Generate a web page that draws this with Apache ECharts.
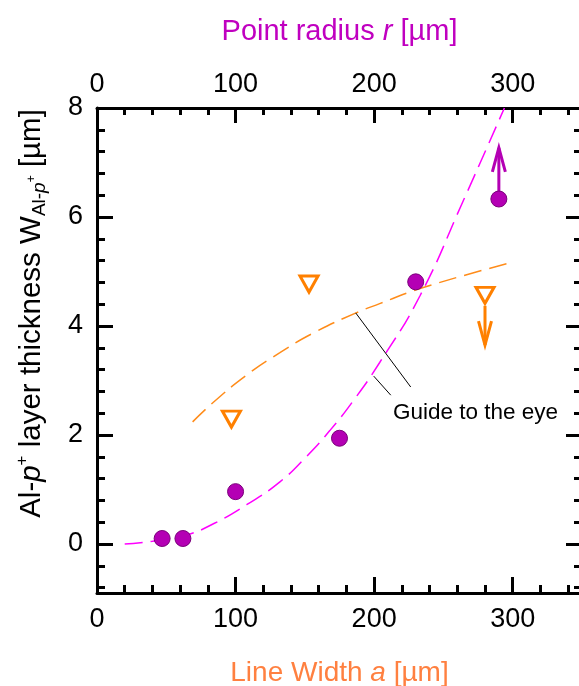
<!DOCTYPE html>
<html>
<head>
<meta charset="utf-8">
<script src="https://cdn.jsdelivr.net/npm/echarts@6/dist/echarts.min.js"></script>
<style>
html,body{margin:0;padding:0;background:#fff;}
#chart{width:579px;height:686px;}
</style>
</head>
<body>
<div id="chart"></div>
<script>
// ---- data ----
const circlePoints = [[47, 0.10], [62, 0.10], [100, 0.96], [175, 1.94], [230, 4.81], [290, 6.33]];
const trianglePoints = [[97, 2.29], [153, 4.77], [280, 4.56]];
const magentaArrow = [[290, 6.33, 7.27]];
const orangeArrow = [[280, 4.37, 3.65]];
const magentaGuide = [[20, 0.0], [40, 0.05], [65, 0.17], [84, 0.37], [108, 0.72], [132, 1.14], [151, 1.60], [168, 2.08], [185, 2.63], [204, 3.33], [233, 4.55], [264, 6.28], [294, 8.0]];
const orangeGuide = [[69, 2.24], [84, 2.60], [108, 3.10], [132, 3.51], [156, 3.87], [187, 4.24], [204, 4.41], [236, 4.71], [300, 5.17]];
const pointerLine1 = [[186.7, 4.24], [226.4, 2.88]];
const pointerLine2 = [[199.7, 3.08], [212.0, 2.73]];
const xTicks = [0, 100, 200, 300];
const xMinorTicks = [20, 40, 60, 80, 120, 140, 160, 180, 220, 240, 260, 280, 320, 340];
const yTicks = [0, 2, 4, 6, 8];
const yMinorTicks = [-0.8, -0.4, 0.4, 0.8, 1.2, 1.6, 2.4, 2.8, 3.2, 3.6, 4.4, 4.8, 5.2, 5.6, 6.4, 6.8, 7.2, 7.6];
const xRange = [0, 350];
const yRange = [-0.9, 8];

// ---- styles ----
const FONT = 'Liberation Sans, Arial, sans-serif';
const MAG = '#b400b4';
const MAG_LINE = '#ff00ff';
const ORG = '#ff8000';
const ORG_LINE = '#ff8c1a';

function xAxisCfg(pos, ticks, len, main, margin) {
  return {
    type: 'value', position: pos, min: xRange[0], max: xRange[1],
    axisLine: {show: main, onZero: false, lineStyle: {color: '#000', width: 3}},
    axisTick: {show: true, inside: true, length: len, customValues: ticks, lineStyle: {color: '#000', width: 3}},
    axisLabel: main ? {show: true, customValues: xTicks, margin: margin, color: '#000', fontSize: 27, fontFamily: FONT} : {show: false},
    splitLine: {show: false}
  };
}
function yAxisCfg(pos, ticks, len, main, labels) {
  return {
    type: 'value', position: pos, min: yRange[0], max: yRange[1],
    axisLine: {show: main, onZero: false, lineStyle: {color: '#000', width: 3}},
    axisTick: {show: true, inside: true, length: len, customValues: ticks, lineStyle: {color: '#000', width: 3}},
    axisLabel: labels ? {show: true, customValues: yTicks, margin: 14, color: '#000', fontSize: 27, fontFamily: FONT} : {show: false},
    splitLine: {show: false}
  };
}

function arrowRender(params, api) {
  const x = api.value(0), ya = api.value(1), yb = api.value(2);
  const p0 = api.coord([x, ya]), p1 = api.coord([x, yb]);
  const dir = p1[1] < p0[1] ? 1 : -1;
  const hw = 6.5, hl = 24;
  const color = api.visual('color');
  return {
    type: 'group',
    children: [
      {type: 'line', shape: {x1: p0[0], y1: p0[1], x2: p1[0], y2: p1[1]}, style: {stroke: color, lineWidth: 3}},
      {type: 'polyline', shape: {points: [[p1[0] - hw, p1[1] + dir * hl], [p1[0], p1[1]], [p1[0] + hw, p1[1] + dir * hl]]},
       style: {stroke: color, lineWidth: 3, fill: null}}
    ]
  };
}

const bottomMain = xAxisCfg('bottom', xTicks, 16, true, 13);
bottomMain.name = '{n|Line Width }{i|a}{n| [µm]}';
bottomMain.nameLocation = 'middle';
bottomMain.nameGap = 66;
bottomMain.nameTextStyle = {color: '#ff8040', fontFamily: FONT, fontSize: 28,
  rich: {n: {color: '#ff8040', fontSize: 28, fontFamily: FONT}, i: {color: '#ff8040', fontSize: 28, fontFamily: FONT, fontStyle: 'italic'}}};

const topMain = xAxisCfg('top', xTicks, 15, true, 10);
topMain.name = '{n|Point radius }{i|r}{n| [µm]}';
topMain.nameLocation = 'middle';
topMain.nameGap = 62;
topMain.nameTextStyle = {color: '#c000c0', fontFamily: FONT, fontSize: 29,
  rich: {n: {color: '#c000c0', fontSize: 29, fontFamily: FONT}, i: {color: '#c000c0', fontSize: 29, fontFamily: FONT, fontStyle: 'italic'}}};

const leftMain = yAxisCfg('left', yTicks, 16, true, true);
leftMain.name = '{n|Al-}{i|p}{sup|+}{n| layer thickness W}{sub|Al-}{subi|p}{subsup|+}{n| [µm]}';
leftMain.nameLocation = 'middle';
leftMain.nameGap = 48;
leftMain.nameTextStyle = {color: '#000', fontFamily: FONT, fontSize: 29.5, padding: [0, 0, 0, 74],
  rich: {
    n: {fontSize: 29.5, lineHeight: 35, fontFamily: FONT, color: '#000'},
    i: {fontSize: 29.5, lineHeight: 35, fontFamily: FONT, fontStyle: 'italic', color: '#000'},
    sup: {fontSize: 17, lineHeight: 17, fontFamily: FONT, verticalAlign: 'top', color: '#000'},
    sub: {fontSize: 19, lineHeight: 19, fontFamily: FONT, verticalAlign: 'bottom', color: '#000'},
    subi: {fontSize: 19, lineHeight: 19, fontFamily: FONT, fontStyle: 'italic', verticalAlign: 'bottom', color: '#000'},
    subsup: {fontSize: 12, lineHeight: 12, fontFamily: FONT, verticalAlign: 'middle', color: '#000'}
  }};

const option = {
  animation: false,
  backgroundColor: '#fff',
  grid: {left: 97, top: 108, width: 485, height: 485, containLabel: false, outerBoundsMode: 'none'},
  xAxis: [
    bottomMain,
    xAxisCfg('bottom', xMinorTicks, 8, false, 0),
    topMain,
    xAxisCfg('top', xMinorTicks, 7, false, 0)
  ],
  yAxis: [
    leftMain,
    yAxisCfg('left', yMinorTicks, 8, false, false),
    yAxisCfg('right', yTicks, 16, true, false),
    yAxisCfg('right', yMinorTicks, 8, false, false)
  ],
  graphic: [
    {type: 'text', x: 393, y: 413, style: {text: 'Guide to the eye', font: '22.5px ' + FONT, fill: '#000', textVerticalAlign: 'middle'}}
  ],
  series: [
    {type: 'line', data: magentaGuide, smooth: 0.5, showSymbol: false, symbol: 'none',
     lineStyle: {color: MAG_LINE, width: 1.5, type: [18, 8]}, z: 2},
    {type: 'line', data: orangeGuide, smooth: 0.5, showSymbol: false, symbol: 'none',
     lineStyle: {color: ORG_LINE, width: 1.5, type: [18, 8]}, z: 2},
    {type: 'line', data: pointerLine1, showSymbol: false, symbol: 'none', lineStyle: {color: '#000', width: 1}, z: 2},
    {type: 'line', data: pointerLine2, showSymbol: false, symbol: 'none', lineStyle: {color: '#000', width: 1}, z: 2},
    {type: 'custom', data: magentaArrow, renderItem: arrowRender, itemStyle: {color: MAG}, encode: {x: 0, y: [1, 2]}, z: 3},
    {type: 'custom', data: orangeArrow, renderItem: arrowRender, itemStyle: {color: ORG}, encode: {x: 0, y: [1, 2]}, z: 3},
    {type: 'scatter', data: circlePoints, symbol: 'circle', symbolSize: 16,
     itemStyle: {color: MAG, borderColor: '#7a007a', borderWidth: 1, opacity: 1}, z: 5},
    {type: 'scatter', data: trianglePoints, symbol: 'triangle', symbolRotate: 180, symbolSize: [18, 16],
     itemStyle: {color: 'rgba(255,255,255,0)', borderColor: ORG, borderWidth: 3, opacity: 1}, z: 5}
  ]
};

const chart = echarts.init(document.getElementById('chart'), null, {renderer: 'canvas'});
chart.setOption(option);
</script>
</body>
</html>
